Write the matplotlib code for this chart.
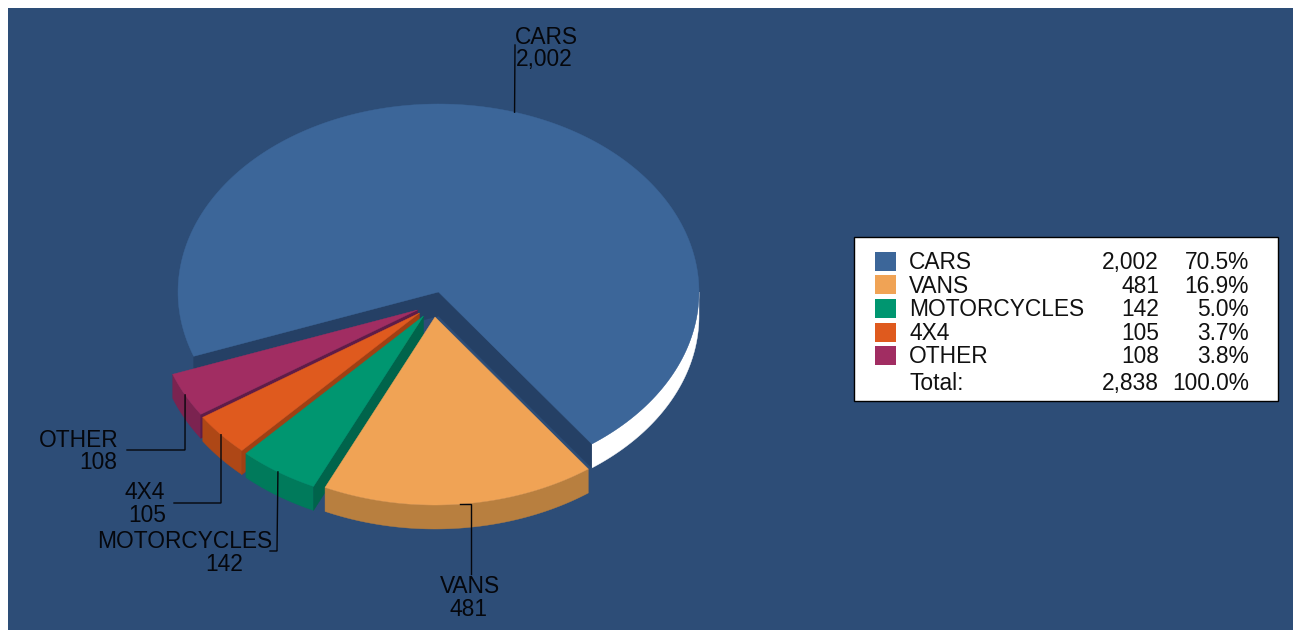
import numpy as np
import matplotlib
matplotlib.use("Agg")
import matplotlib.pyplot as plt
from matplotlib.patches import Polygon, Rectangle

categories = ["CARS", "VANS", "MOTORCYCLES", "4X4", "OTHER"]
values = [2002, 481, 142, 105, 108]
top_colors = ["#3c6699", "#f0a355", "#009670", "#df5a1e", "#a12d62"]
side_colors = ["#ffffff", "#b87f3f", "#007a5b", "#ae4716", "#7b2350"]
cut_colors = ["#254065", "#b87f3f", "#00644b", "#a04013", "#5f1c48"]
apex_offsets = [(0, 0), (-3.5, 25), (-15, 24), (-19, 21), (-21, 18)]

plt.rcParams["font.family"] = ["Liberation Sans", "DejaVu Sans"]
BG = "#2d4d77"
INK = "#05070c"
CX, CY, RX, RY, DEPTH = 438.5, 292, 260.5, 188, 24
START = 200.0
FS = 16.4
DY = 1.8  # vertical centring correction for text

fig = plt.figure(figsize=(12.98, 6.30), dpi=100, facecolor="white")
ax = fig.add_axes([0, 0, 1, 1])
ax.set_xlim(0, 1298)
ax.set_ylim(630, 0)
ax.axis("off")
ax.add_patch(Rectangle((8, 8), 1285, 622, fc=BG, ec="none", zorder=0))

total = sum(values)
edges = START - np.concatenate([[0], np.cumsum(values)]) / total * 360


def point(apex, deg):
    d = np.radians(deg)
    return np.array([apex[0] + RX * np.cos(d), apex[1] - RY * np.sin(d)])


def arc(apex, a0, a1):
    t = np.radians(np.linspace(a0, a1, 200))
    return np.column_stack([apex[0] + RX * np.cos(t), apex[1] - RY * np.sin(t)])


def fill(pts, color, z):
    ax.add_patch(Polygon(pts, closed=True, fc=color, ec=color, lw=0.3, zorder=z))


down = np.array([0, DEPTH])
apexes = [np.array([CX + o[0], CY + o[1]]) for o in apex_offsets]

# draw back to front: cars, then other -> vans
for z, i in enumerate([0, 4, 3, 2, 1]):
    apex = apexes[i]
    a0, a1 = edges[i], edges[i + 1]
    base = 2 + z * 3
    # outer rim (front half only; for the big slice, its right-hand part)
    r0 = min(a0, 0) if i else 0
    rim = arc(apex, r0, a1)
    fill(np.vstack([rim, (rim + down)[::-1]]), side_colors[i], base)
    # cut face on the side that faces the viewer
    p0, p1 = point(apex, a1), apex
    p2 = point(apex, a0)
    if i == 0:
        fill(np.vstack([p2, p1, p0, p0 + down, p1 + down, p2 + down]), cut_colors[i], base + 1)
    elif i != 1:
        fill(np.vstack([p1, p2, p2 + down, p1 + down]), cut_colors[i], base + 1)
    # top face
    fill(np.vstack([apex, arc(apex, a0, a1)]), top_colors[i], base + 2)

# leader lines: start at the middle of each slice's rim
elbows = [
    [(515, 45)],
    [(471, None), (471, 574)],
    [(277, 551), (270, 551)],
    [(221, 503), (174, 503)],
    [(185, 450), (127, 450)],
]
label_pos = [
    (515, 36, "left", 516, 58, "left"),
    (470, 585, "center", 468, 608, "center"),
    (272, 540, "right", 243, 563, "right"),
    (165, 491, "right", 166, 514, "right"),
    (118.5, 439, "right", 117, 461, "right"),
]
for i, name in enumerate(categories):
    mid = (edges[i] + edges[i + 1]) / 2
    s = point(apexes[i], mid)
    pts = [tuple(s)] + [(x, s[1] if y is None else y) for x, y in elbows[i]]
    xs, ys = zip(*pts)
    ax.plot(xs, ys, color=INK, lw=1.0, zorder=30, solid_joinstyle="miter")
    x1, y1, h1, x2, y2, h2 = label_pos[i]
    ax.text(x1, y1 + DY, name, ha=h1, va="center", fontsize=FS, color=INK, zorder=31)
    ax.text(x2, y2 + DY, f"{values[i]:,}", ha=h2, va="center", fontsize=FS, color=INK, zorder=31)

# legend table
ax.add_patch(Rectangle((854, 237), 424, 164, fc="white", ec="black", lw=1.0, zorder=40))
row_y = [261, 284.5, 308, 332, 355]
for i, name in enumerate(categories):
    y = row_y[i]
    ax.add_patch(Rectangle((875, y - 9.5), 21, 19, fc=top_colors[i], ec="none", zorder=41))
    ax.text(909, y + DY, name, ha="left", va="center", fontsize=FS, color="#111111", zorder=41)
    ax.text(1159, y + DY, f"{values[i]:,}", ha="right", va="center", fontsize=FS, color="#111111", zorder=41)
    ax.text(1249, y + DY, f"{values[i] / total * 100:.1f}%", ha="right", va="center", fontsize=FS, color="#111111", zorder=41)
ax.text(909, 382 + DY, "Total:", ha="left", va="center", fontsize=FS, color="#111111", zorder=41)
ax.text(1159, 382 + DY, f"{total:,}", ha="right", va="center", fontsize=FS, color="#111111", zorder=41)
ax.text(1249, 382 + DY, "100.0%", ha="right", va="center", fontsize=FS, color="#111111", zorder=41)

fig.savefig("out.png", dpi=100, facecolor="white")
